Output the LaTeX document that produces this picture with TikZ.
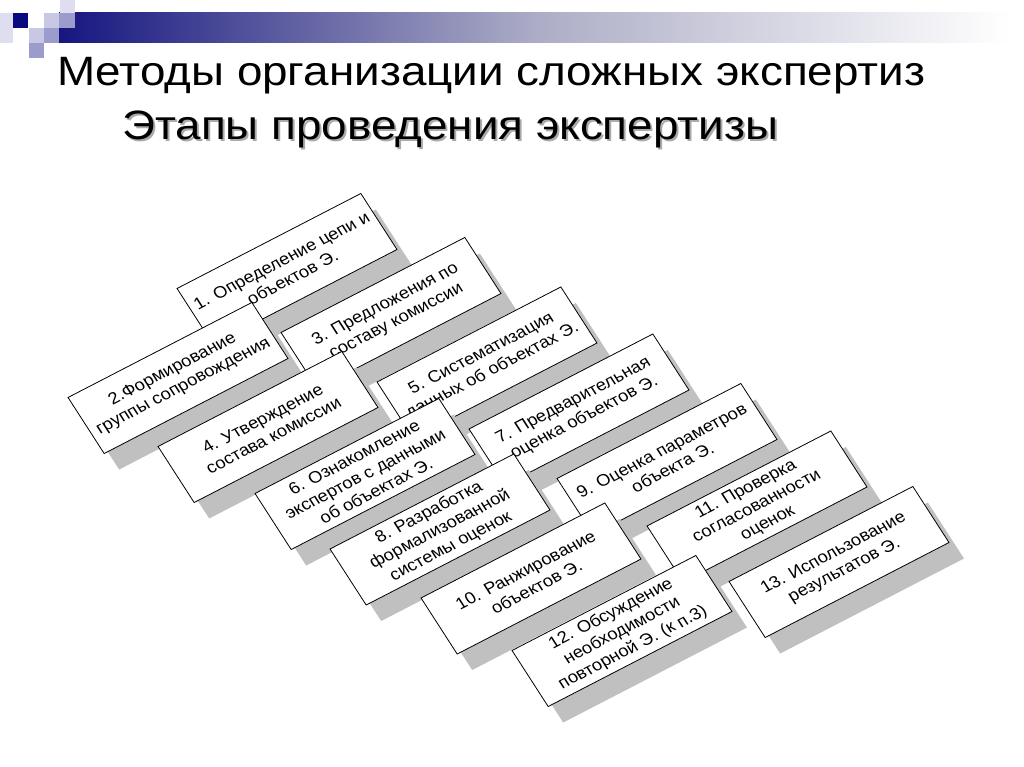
\documentclass[tikz,border=0pt]{standalone}
\usepackage{fontspec}
\setmainfont{Liberation Sans}
\usetikzlibrary{calc}
\definecolor{barnavy}{RGB}{22,22,128}
\definecolor{barmid}{RGB}{172,172,198}
\definecolor{sqnavy}{RGB}{10,10,128}
\definecolor{sqpale}{RGB}{222,222,240}
\definecolor{sqlight}{RGB}{200,200,228}
\definecolor{sqmed}{RGB}{156,156,204}
\definecolor{shadowgray}{RGB}{192,192,192}
\definecolor{titleshadow}{RGB}{170,170,170}
\newcommand{\etapbox}[3]{%
  \node[etapshadow] (#1s) at ($(#2)+(15,16)$) {};
  \node[etap] (#1) at (#2) {#3};}
\begin{document}
\begin{tikzpicture}[x=1pt,y=-1pt,
  etap/.style={draw=black, line width=0.8pt, fill=white, minimum width=190pt,
    minimum height=64.7pt, inner sep=0pt, align=center,
    font=\fontsize{16.5}{19.5}\selectfont, xscale=1.117, rotate=30},
  etapshadow/.style={fill=shadowgray, minimum width=190pt, minimum height=64.7pt,
    inner sep=0pt, xscale=1.117, rotate=30},
  titlefont/.style={font=\fontsize{41}{48}\selectfont, inner sep=0pt,
    anchor=base west, xscale=1.117}
]
\useasboundingbox (0,0) rectangle (1024,767);
\fill[white] (0,0) rectangle (1024,767);
% decoration
\shade[left color=barnavy, right color=barmid] (59,13) rectangle (535,43);
\shade[left color=barmid, right color=white] (534.5,13) rectangle (1010,43);
\fill[sqpale] (0,13) rectangle (13,43);
\fill[sqnavy] (13,13) rectangle (28,28);
\fill[sqpale] (60,0) rectangle (75,13);
\fill[sqlight] (44,13) rectangle (59,28);
\fill[sqmed] (59,13) rectangle (75,28);
\fill[sqlight] (29,28) rectangle (44,43);
\fill[sqmed] (44,28) rectangle (59,43);
\fill[sqmed] (29,43) rectangle (44,58);
% titles
\node[titlefont] (t1) at (57,86) {Методы организации сложных экспертиз};
\node[titlefont, text=titleshadow] (t2s) at (124,142) {Этапы проведения экспертизы};
\node[titlefont] (t2) at (122,140) {Этапы проведения экспертизы};
% boxes
\etapbox{b1}{287,269}{1. Определение цепи и\\объектов Э.}
\etapbox{b2}{178,378}{2.Формирование\\группы сопровождения}
\etapbox{b3}{391,313}{3. Предложения по\\составу комиссии}
\etapbox{b4}{268,427}{4. Утверждение\\состава комиссии}
\etapbox{b5}{487,362.5}{5. Систематизация\\данных об объектах Э.}
\etapbox{b6}{365,474}{6. Ознакомление\\экспертов с данными\\об объектах Э.}
\etapbox{b7}{579,409.5}{7. Предварительная\\оценка объектов Э.}
\etapbox{b8}{440,529.5}{8. Разработка\\формализованной\\системы оценок}
\etapbox{b9}{667,459}{9. Оценка параметров\\объекта Э.}
\etapbox{b10}{531,578.5}{10. Ранжирование\\объектов Э.}
\etapbox{b11}{757,506.5}{11. Проверка\\согласованности\\оценок}
\etapbox{b12}{622,631}{12. Обсуждение\\необходимости\\повторной Э. (к п.3)}
\etapbox{b13}{839,562}{13. Использование\\результатов Э.}
\end{tikzpicture}
\end{document}
